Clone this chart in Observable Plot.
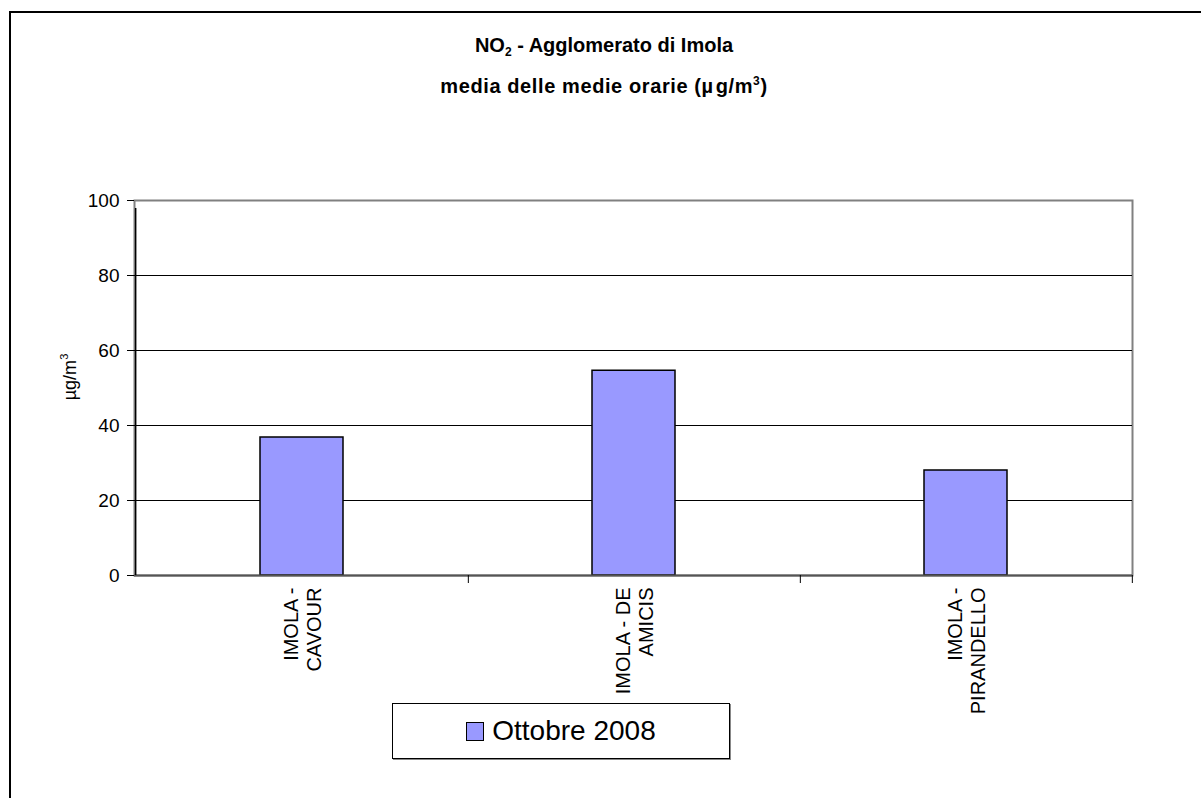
<!DOCTYPE html>
<html>
<head>
<meta charset="utf-8">
<script src="https://cdn.jsdelivr.net/npm/d3@7"></script>
<script src="https://cdn.jsdelivr.net/npm/@observablehq/plot@0.6"></script>
<style>
  html, body { margin: 0; padding: 0; background: #fff; }
  body { font-family: "Liberation Sans", Arial, sans-serif; }
  #wrap { position: relative; width: 1201px; height: 798px; overflow: hidden; }
  #border { position: absolute; left: 9px; top: 11px; width: 1300px; height: 900px;
            border-left: 2px solid #000; border-top: 2px solid #000; box-sizing: border-box; }
  .title { position: absolute; left: 0; width: 1208px; text-align: center;
           font-weight: bold; font-size: 20px; color: #000; }
  .title sub { font-size: 12px; vertical-align: -4px; line-height: 0; }
  .title sup { font-size: 12px; vertical-align: 8px; line-height: 0; }
  .title .mu { margin: 0 2px 0 0; }
  #ylabel { position: absolute; left: 70px; top: 377px; transform: translate(-50%, -50%) rotate(-90deg);
            font-size: 18px; white-space: nowrap; }
  #ylabel sup { font-size: 11px; vertical-align: 8px; line-height: 0; }
  #legend { position: absolute; left: 392px; top: 703px; width: 338px; height: 56px;
            border: 1px solid #000; box-sizing: border-box; box-shadow: 1px 1px 0 #888;
            display: flex; align-items: center; justify-content: center; font-size: 28px; }
  #legend .sw { width: 16px; height: 17px; background: #9999FF; border: 1.5px solid #000; margin-right: 8px; }
  #chart { position: absolute; left: 0; top: 0; }
</style>
</head>
<body>
<div id="wrap">
  <div id="border"></div>
  <div id="chart"></div>
  <div class="title" style="top:34px">NO<sub>2</sub> - Agglomerato di Imola</div>
  <div class="title" style="top:75px; letter-spacing:0.6px">media delle medie orarie (<span class="mu">µ</span>g/m<sup>3</sup>)</div>
  <div id="ylabel">µg/m<sup>3</sup></div>
  <div id="legend"><span class="sw"></span><span id="legtext"></span></div>
</div>
<script>
const categories = ["IMOLA -\nCAVOUR", "IMOLA - DE\nAMICIS", "IMOLA -\nPIRANDELLO"];
const values = [36.8, 54.6, 28.0];
const yTicks = [0, 20, 40, 60, 80, 100];
const gridValues = [20, 40, 60, 80];
const seriesName = "Ottobre 2008";

const data = categories.map((c, i) => ({station: c, value: values[i]}));

const W = 1201, H = 798;
const mL = 134, mR = 69, mT = 200, mB = 223;
const step = (W - mL - mR) / categories.length;

document.getElementById("legtext").textContent = seriesName;

const chart = Plot.plot({
  width: W,
  height: H,
  marginLeft: mL,
  marginRight: mR,
  marginTop: mT,
  marginBottom: mB,
  style: {fontFamily: "'Liberation Sans', Arial, sans-serif", fontSize: "19px", color: "#000", background: "transparent", overflow: "visible"},
  x: {domain: categories, paddingInner: 0.75, paddingOuter: 0.375, axis: null},
  y: {domain: [0, 100], axis: null},
  marks: [
    Plot.frame({stroke: "#808080", strokeWidth: 2}),
    Plot.ruleY(gridValues, {stroke: "#000", strokeWidth: 1}),
    Plot.barY(data, {x: "station", y: "value", fill: "#9999FF", stroke: "#000", strokeWidth: 1.5}),
    Plot.ruleY([0], {stroke: "#555", strokeWidth: 2}),
    // left axis line
    Plot.ruleX([categories[0]], {x: d => d, dx: -step / 2, y1: () => 0, y2: () => 100, insetBottom: -8, stroke: "#000", strokeWidth: 1.5}),
    // category boundary ticks
    Plot.ruleX(categories, {x: d => d, dx: step / 2, y1: () => 0, y2: () => 0, insetBottom: -8, stroke: "#000", strokeWidth: 1}),
    // y ticks and labels
    Plot.axisY(yTicks, {tickSize: 7, tickPadding: 8, fontSize: 19, label: null, stroke: "#000", tickFormat: d => String(d)}),
    // category labels
    Plot.text(categories, {x: d => d, y: () => 0, text: d => d, rotate: -90, textAnchor: "end", lineAnchor: "middle", dy: 12, dx: 0, fontSize: 20, lineHeight: 1.15})
  ]
});
document.getElementById("chart").appendChild(chart);
</script>
</body>
</html>
